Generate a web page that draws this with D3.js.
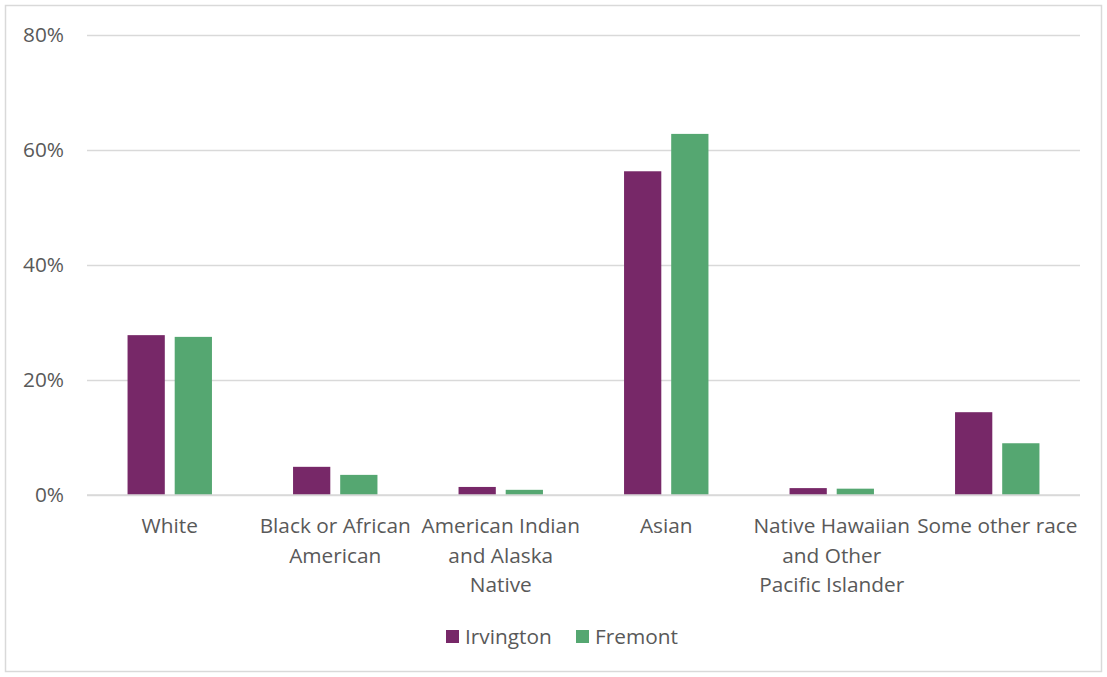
<!DOCTYPE html>
<html>
<head>
<meta charset="utf-8">
<script src="https://cdn.jsdelivr.net/npm/d3@7"></script>
<style>
  html, body { margin: 0; padding: 0; background: #fff; }
  svg { display: block; }
  text { font-family: "Open Sans", Lato, sans-serif; fill: #595959; }
</style>
</head>
<body>
<svg id="chart" width="1107" height="677"></svg>
<script>
const categories = ["White", "Black or African American", "American Indian and Alaska Native", "Asian", "Native Hawaiian and Other Pacific Islander", "Some other race"];
const labelLines = [["White"], ["Black or African", "American"], ["American Indian", "and Alaska", "Native"], ["Asian"], ["Native Hawaiian", "and Other", "Pacific Islander"], ["Some other race"]];
const seriesNames = ["Irvington", "Fremont"];
const irvington = [27.8, 4.9, 1.4, 56.3, 1.2, 14.4];
const fremont = [27.5, 3.5, 0.9, 62.8, 1.1, 9.0];
const yTicks = [0, 20, 40, 60, 80];
const colors = ["#772868", "#55A771"];

const FONT = "'Open Sans', Lato, sans-serif";
const FS = 20.8;
const svg = d3.select("#chart");
const W = 1107, H = 677;
const plot = { left: 87, right: 1080, top: 35, bottom: 495 };

svg.append("rect").attr("x", 5.5).attr("y", 5.5).attr("width", W - 11).attr("height", H - 11)
  .attr("fill", "#fff").attr("stroke", "#d9d9d9").attr("stroke-width", 1.5);

const y = d3.scaleLinear().domain([0, 80]).range([plot.bottom, plot.top]);
const x0 = d3.scaleBand().domain(categories).range([plot.left, plot.right]).paddingInner(0.49).paddingOuter(0.245);
const x1 = d3.scaleBand().domain(seriesNames).range([0, x0.bandwidth()]).paddingInner(0.21);

// gridlines
const yAxis = d3.axisLeft(y).tickValues(yTicks).tickFormat(d => d + "%").tickSize(-(plot.right - plot.left)).tickPadding(23);
const gy = svg.append("g").attr("transform", `translate(${plot.left},0)`).call(yAxis);
gy.select(".domain").remove();
gy.selectAll(".tick line").attr("stroke", "#d9d9d9").attr("stroke-width", 1.5);
gy.selectAll(".tick text").attr("font-size", FS).attr("fill", "#595959").style("font-family", FONT);

// bars
const rows = categories.map((c, i) => ({ cat: c, vals: [irvington[i], fremont[i]] }));
const groups = svg.append("g").selectAll("g").data(rows).join("g")
  .attr("transform", d => `translate(${x0(d.cat)},0)`);
groups.selectAll("rect").data(d => d.vals.map((v, j) => ({ s: seriesNames[j], v, j })))
  .join("rect")
  .attr("x", d => x1(d.s))
  .attr("width", x1.bandwidth())
  .attr("y", d => y(d.v))
  .attr("height", d => y(0) - y(d.v))
  .attr("fill", d => colors[d.j]);

// baseline over bars
svg.append("line").attr("x1", plot.left).attr("x2", plot.right).attr("y1", y(0)).attr("y2", y(0))
  .attr("stroke", "#d9d9d9").attr("stroke-width", 1.5);

// x labels
const xl = svg.append("g");
categories.forEach((c, i) => {
  const cx = x0(c) + x0.bandwidth() / 2;
  const t = xl.append("text").attr("text-anchor", "middle").attr("font-size", FS)
    .attr("x", cx).attr("y", 533);
  labelLines[i].forEach((ln, k) => {
    t.append("tspan").attr("x", cx).attr("dy", k === 0 ? 0 : 29.5).text(ln);
  });
});

// legend
const legX = [446, 576];
const lg = svg.append("g");
seriesNames.forEach((s, i) => {
  lg.append("rect").attr("x", legX[i]).attr("y", 630).attr("width", 13).attr("height", 13).attr("fill", colors[i]);
  lg.append("text").attr("x", legX[i] + 19).attr("y", 644).attr("font-size", FS).text(s);
});
</script>
</body>
</html>
